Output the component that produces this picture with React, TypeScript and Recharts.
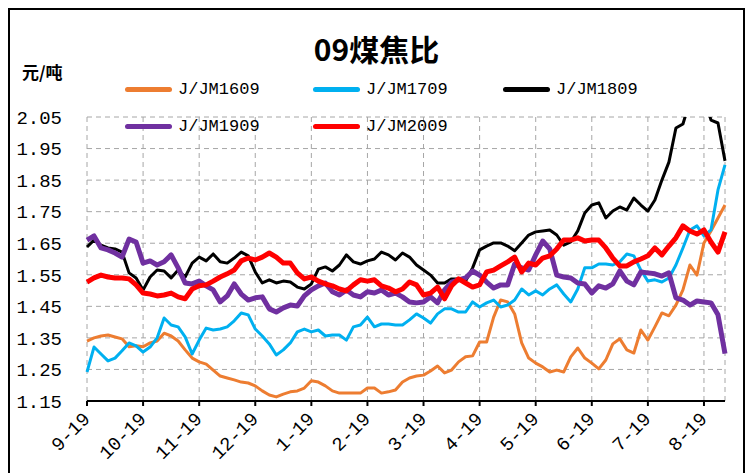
import { LineChart, Line, XAxis, YAxis, CartesianGrid } from 'recharts';

const monthLabels = ['9-19', '10-19', '11-19', '12-19', '1-19', '2-19', '3-19', '4-19', '5-19', '6-19', '7-19', '8-19'];
const yTicks = [1.15, 1.25, 1.35, 1.45, 1.55, 1.65, 1.75, 1.85, 1.95, 2.05];

// roughly 8 samples per month
const j1609 = [1.340,1.350,1.356,1.359,1.353,1.347,1.322,1.325,1.322,1.334,
  1.340,1.365,1.356,1.340,1.312,1.286,1.274,1.267,1.248,1.229,
  1.223,1.217,1.210,1.207,1.198,1.182,1.169,1.163,1.172,1.179,
  1.182,1.191,1.214,1.210,1.198,1.182,1.175,1.175,1.175,1.175,
  1.191,1.191,1.175,1.179,1.185,1.210,1.223,1.229,1.232,1.245,
  1.261,1.239,1.248,1.274,1.290,1.293,1.337,1.337,1.416,1.470,
  1.464,1.426,1.334,1.286,1.270,1.258,1.242,1.248,1.242,1.290,
  1.318,1.286,1.270,1.252,1.280,1.331,1.347,1.312,1.302,1.375,
  1.343,1.385,1.429,1.420,1.454,1.502,1.581,1.549,1.651,1.689,
  1.730,1.771];

const j1709 = [1.242,1.321,1.299,1.277,1.286,1.309,1.334,1.325,1.305,1.321,
  1.350,1.413,1.391,1.385,1.353,1.299,1.343,1.381,1.375,1.378,
  1.385,1.404,1.429,1.423,1.378,1.356,1.331,1.296,1.312,1.334,
  1.369,1.378,1.369,1.375,1.356,1.359,1.359,1.343,1.385,1.391,
  1.416,1.385,1.394,1.394,1.391,1.391,1.407,1.426,1.413,1.397,
  1.426,1.442,1.442,1.432,1.432,1.464,1.448,1.461,1.470,1.448,
  1.454,1.470,1.505,1.486,1.499,1.486,1.505,1.518,1.489,1.464,
  1.505,1.572,1.572,1.584,1.584,1.581,1.591,1.616,1.610,1.565,
  1.530,1.534,1.527,1.540,1.581,1.635,1.692,1.705,1.673,1.692,
  1.819,1.898];

const j1809 = [1.638,1.660,1.644,1.635,1.632,1.622,1.556,1.540,1.502,1.543,
  1.565,1.562,1.540,1.565,1.543,1.587,1.606,1.594,1.616,1.591,
  1.587,1.603,1.622,1.610,1.559,1.524,1.534,1.524,1.530,1.527,
  1.511,1.505,1.521,1.568,1.575,1.562,1.581,1.613,1.591,1.584,
  1.594,1.600,1.622,1.613,1.597,1.619,1.606,1.581,1.565,1.549,
  1.524,1.524,1.537,1.537,1.530,1.572,1.629,1.641,1.651,1.651,
  1.641,1.626,1.651,1.676,1.686,1.689,1.692,1.676,1.644,1.654,
  1.689,1.746,1.771,1.778,1.730,1.752,1.765,1.755,1.793,1.771,
  1.752,1.787,1.850,1.907,2.015,2.028,2.10,2.14,2.12,2.040,
  2.031,1.911];

const j1909 = [1.660,1.673,1.635,1.629,1.619,1.606,1.663,1.654,1.587,1.594,
  1.581,1.591,1.613,1.572,1.524,1.521,1.530,1.515,1.502,1.464,
  1.483,1.521,1.489,1.470,1.477,1.480,1.442,1.432,1.445,1.454,
  1.451,1.483,1.502,1.515,1.524,1.496,1.486,1.502,1.486,1.480,
  1.496,1.492,1.502,1.486,1.492,1.480,1.464,1.461,1.464,1.480,
  1.461,1.502,1.527,1.534,1.540,1.562,1.549,1.527,1.508,1.518,
  1.518,1.584,1.572,1.565,1.613,1.657,1.632,1.549,1.543,1.540,
  1.524,1.521,1.492,1.515,1.508,1.521,1.562,1.530,1.518,1.559,
  1.556,1.553,1.546,1.556,1.477,1.470,1.454,1.467,1.464,1.461,
  1.423,1.300];

const j2009 = [1.527,1.540,1.549,1.543,1.540,1.540,1.537,1.518,1.492,1.489,
  1.483,1.486,1.492,1.480,1.474,1.505,1.515,1.518,1.530,1.543,
  1.553,1.565,1.594,1.603,1.597,1.606,1.619,1.606,1.587,1.587,
  1.556,1.537,1.543,1.530,1.521,1.515,1.505,1.499,1.518,1.534,
  1.530,1.534,1.515,1.508,1.496,1.505,1.527,1.518,1.486,1.492,
  1.511,1.474,1.515,1.537,1.524,1.511,1.518,1.559,1.565,1.578,
  1.591,1.606,1.559,1.587,1.581,1.603,1.610,1.632,1.660,1.660,
  1.667,1.657,1.660,1.660,1.635,1.603,1.578,1.578,1.591,1.600,
  1.610,1.635,1.613,1.641,1.667,1.705,1.689,1.679,1.692,1.654,
  1.622,1.686];

const PER_MONTH = 8;

const data = j1609.map((v, i) => ({
  i,
  j1609: v,
  j1709: j1709[i],
  j1809: j1809[i],
  j1909: j1909[i],
  j2009: j2009[i],
}));

const series = [
  { key: 'j1609', name: 'J/JM1609', color: '#ED7D31', width: 3 },
  { key: 'j1709', name: 'J/JM1709', color: '#00B0F0', width: 3 },
  { key: 'j1809', name: 'J/JM1809', color: '#000000', width: 3 },
  { key: 'j1909', name: 'J/JM1909', color: '#7030A0', width: 5 },
  { key: 'j2009', name: 'J/JM2009', color: '#FF0000', width: 5 },
];

const mono = '"Liberation Mono", "DejaVu Sans Mono", monospace';
const cjk = '"Noto Sans CJK SC", sans-serif';

// legend slots (container coords)
const legendPos = [
  { left: 115, top: 79 },
  { left: 303, top: 79 },
  { left: 493, top: 79 },
  { left: 115, top: 116 },
  { left: 303, top: 116 },
];

const XTick = ({ x, y, payload }: any) => {
  const label = monthLabels[Math.round(payload.value / PER_MONTH)];
  const tx = x + 4;
  const ty = y + 14;
  return (
    <text x={tx} y={ty} transform={`rotate(-45 ${tx} ${ty})`} textAnchor="end" fontSize={19} fontFamily={mono} fill="#000">
      {label}
    </text>
  );
};

const App = () => {
  return (
    <div style={{ position: 'relative', width: 733, height: 470, border: '2px solid #000', background: '#fff', overflow: 'hidden' }}>
      <LineChart width={733} height={470} data={data} margin={{ top: 107, right: 18, left: 0, bottom: 0 }}>
        <CartesianGrid strokeDasharray="5 4" stroke="#a6a6a6" />
        <XAxis
          dataKey="i"
          type="number"
          domain={[0, 91]}
          ticks={monthLabels.map((_, k) => k * PER_MONTH)}
          interval={0}
          height={79}
          axisLine={{ stroke: '#000', strokeWidth: 2 }}
          tickLine={{ stroke: '#000', strokeWidth: 2 }}
          tickSize={5}
          tickMargin={0}
          tick={<XTick />}
        />
        <YAxis
          type="number"
          domain={[1.15, 2.05]}
          ticks={yTicks}
          allowDataOverflow
          interval={0}
          width={77}
          axisLine={false}
          tickLine={false}
          tickSize={0}
          tickMargin={25}
          tickFormatter={(v: number) => v.toFixed(2)}
          tick={{ fontSize: 19, fontFamily: mono, fill: '#000' }}
        />
        {series.map((s) => (
          <Line
            key={s.key}
            type="linear"
            dataKey={s.key}
            name={s.name}
            stroke={s.color}
            strokeWidth={s.width}
            strokeLinejoin="round"
            dot={false}
            activeDot={false}
            isAnimationActive={false}
          />
        ))}
      </LineChart>
      <div style={{ position: 'absolute', left: 0, top: 18, width: 733, textAlign: 'center', fontFamily: cjk, fontWeight: 700, fontSize: 30, color: '#000', lineHeight: '40px' }}>
        09煤焦比
      </div>
      <div style={{ position: 'absolute', left: 12, top: 51, fontFamily: cjk, fontWeight: 700, fontSize: 17, color: '#000', lineHeight: '22px' }}>
        元/吨
      </div>
      {series.map((s, idx) => (
        <div key={s.key} style={{ position: 'absolute', left: legendPos[idx].left, top: legendPos[idx].top - 11, height: 22, display: 'flex', alignItems: 'center' }}>
          <div style={{ width: 47, height: 5, borderRadius: 3, background: s.color }} />
          <span style={{ marginLeft: 6, fontFamily: mono, fontSize: 17, color: '#000' }}>{s.name}</span>
        </div>
      ))}
    </div>
  );
};

export default App;
